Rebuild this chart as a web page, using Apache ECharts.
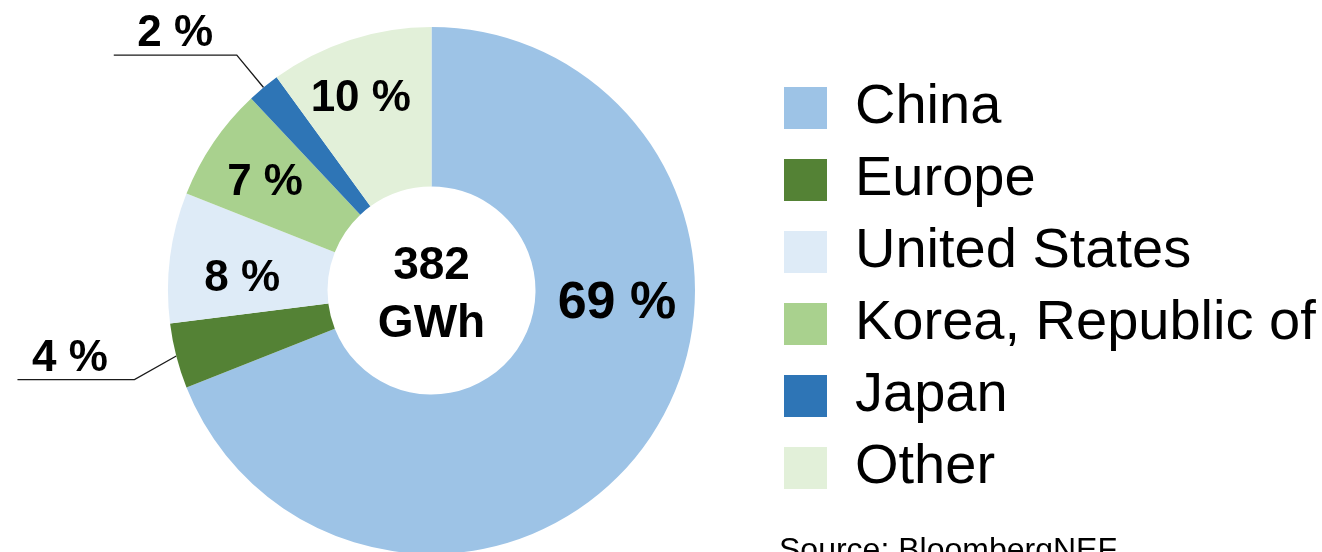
<!DOCTYPE html>
<html><head><meta charset="utf-8">
<script src="https://cdn.jsdelivr.net/npm/echarts/dist/echarts.min.js"></script>
<style>html,body{margin:0;padding:0;background:#fff}#c{width:1322px;height:552px}</style>
</head><body><div id="c"></div>
<script>
const categories = ['China', 'Europe', 'United States', 'Korea, Republic of', 'Japan', 'Other'];
const shares = [69, 4, 8, 7, 2, 10];
const totalText = '382\nGWh';
const sourceNote = 'Source: BloombergNEF';

const colors = ['#9DC3E6', '#548235', '#DEEBF7', '#A9D18E', '#2E75B6', '#E2F0D9'];
const outsideLabels = ['Europe', 'Japan'];
// label nudges (px) relative to the library's inside label position
const labelShift = { 'China': [31, -92], 'United States': [-4, 12], 'Korea, Republic of': [-12, -3], 'Other': [-13, -14] };
// leader-line tilt (degrees), lengths and label nudge for outside labels
const leaderStyle = { 'Europe': { tilt: -15, len: 48, len2: 117, dx: -6 }, 'Japan': { tilt: 0, len: 42, len2: 123, dx: 0 } };
const FONT = '"Liberation Sans", Arial, Helvetica, sans-serif';

const chart = echarts.init(document.getElementById('c'), null, { renderer: 'canvas' });

const data = categories.map((name, i) => {
  const outside = outsideLabels.includes(name);
  return {
    name: name,
    value: shares[i],
    itemStyle: { color: colors[i] },
    label: outside ? { position: 'outside', fontSize: 44 } : { position: 'inside', fontSize: name === 'China' ? 52 : 44 },
    labelLine: outside
      ? { show: true, length: leaderStyle[name].len, length2: leaderStyle[name].len2, smooth: false,
          lineStyle: { color: '#1a1a1a', width: 1.3 } }
      : { show: false }
  };
});

chart.setOption({
  backgroundColor: '#ffffff',
  animation: false,
  title: [
    { text: totalText, left: 431.5, top: 295, padding: 0, textAlign: 'center', textVerticalAlign: 'middle',
      textStyle: { fontFamily: FONT, fontWeight: 'bold', fontSize: 46, lineHeight: 58, color: '#000' } },
    { text: sourceNote, left: 779, top: 535, padding: 0,
      textStyle: { fontFamily: FONT, fontWeight: 'normal', fontSize: 32, color: '#000' } }
  ],
  legend: {
    orient: 'vertical', left: 784, top: 80, padding: 0,
    itemWidth: 43, itemHeight: 42, itemGap: 16, icon: 'rect', selectedMode: false,
    itemStyle: { borderWidth: 0 },
    textStyle: { fontFamily: FONT, fontSize: 56, color: '#000', padding: [0, 0, 0, 23] },
    data: categories
  },
  series: [{
    type: 'pie',
    center: [431.5, 290.5],
    radius: [104, 263.5],
    startAngle: 90,
    clockwise: true,
    avoidLabelOverlap: false,
    emphasis: { disabled: true },
    itemStyle: { borderWidth: 0 },
    label: { show: true, color: '#000', fontFamily: FONT, fontWeight: 'bold', fontSize: 44,
      formatter: p => p.value + ' %' },
    labelLine: { show: false },
    data: data,
    labelLayout: function (params) {
      const name = categories[params.dataIndex];
      if (outsideLabels.includes(name)) {
        const pts = params.labelLinePoints;
        if (!pts) return {};
        const st = leaderStyle[name];
        const p0 = pts[0];
        const vx = pts[1][0] - p0[0], vy = pts[1][1] - p0[1];
        const a = st.tilt * Math.PI / 180;
        const p1 = [p0[0] + vx * Math.cos(a) - vy * Math.sin(a), p0[1] + vx * Math.sin(a) + vy * Math.cos(a)];
        const dir = pts[2][0] < pts[1][0] ? -1 : 1;
        const p2 = [p1[0] + dir * st.len2, p1[1]];
        return { x: (p1[0] + p2[0]) / 2 + st.dx, y: p2[1] + 1, align: 'center', verticalAlign: 'bottom',
                 labelLinePoints: [p0, p1, p2] };
      }
      const s = labelShift[name] || [0, 0];
      const r = params.labelRect;
      return { x: r.x + r.width / 2 + s[0], y: r.y + r.height / 2 + s[1], align: 'center', verticalAlign: 'middle' };
    }
  }]
});
</script>
</body></html>
